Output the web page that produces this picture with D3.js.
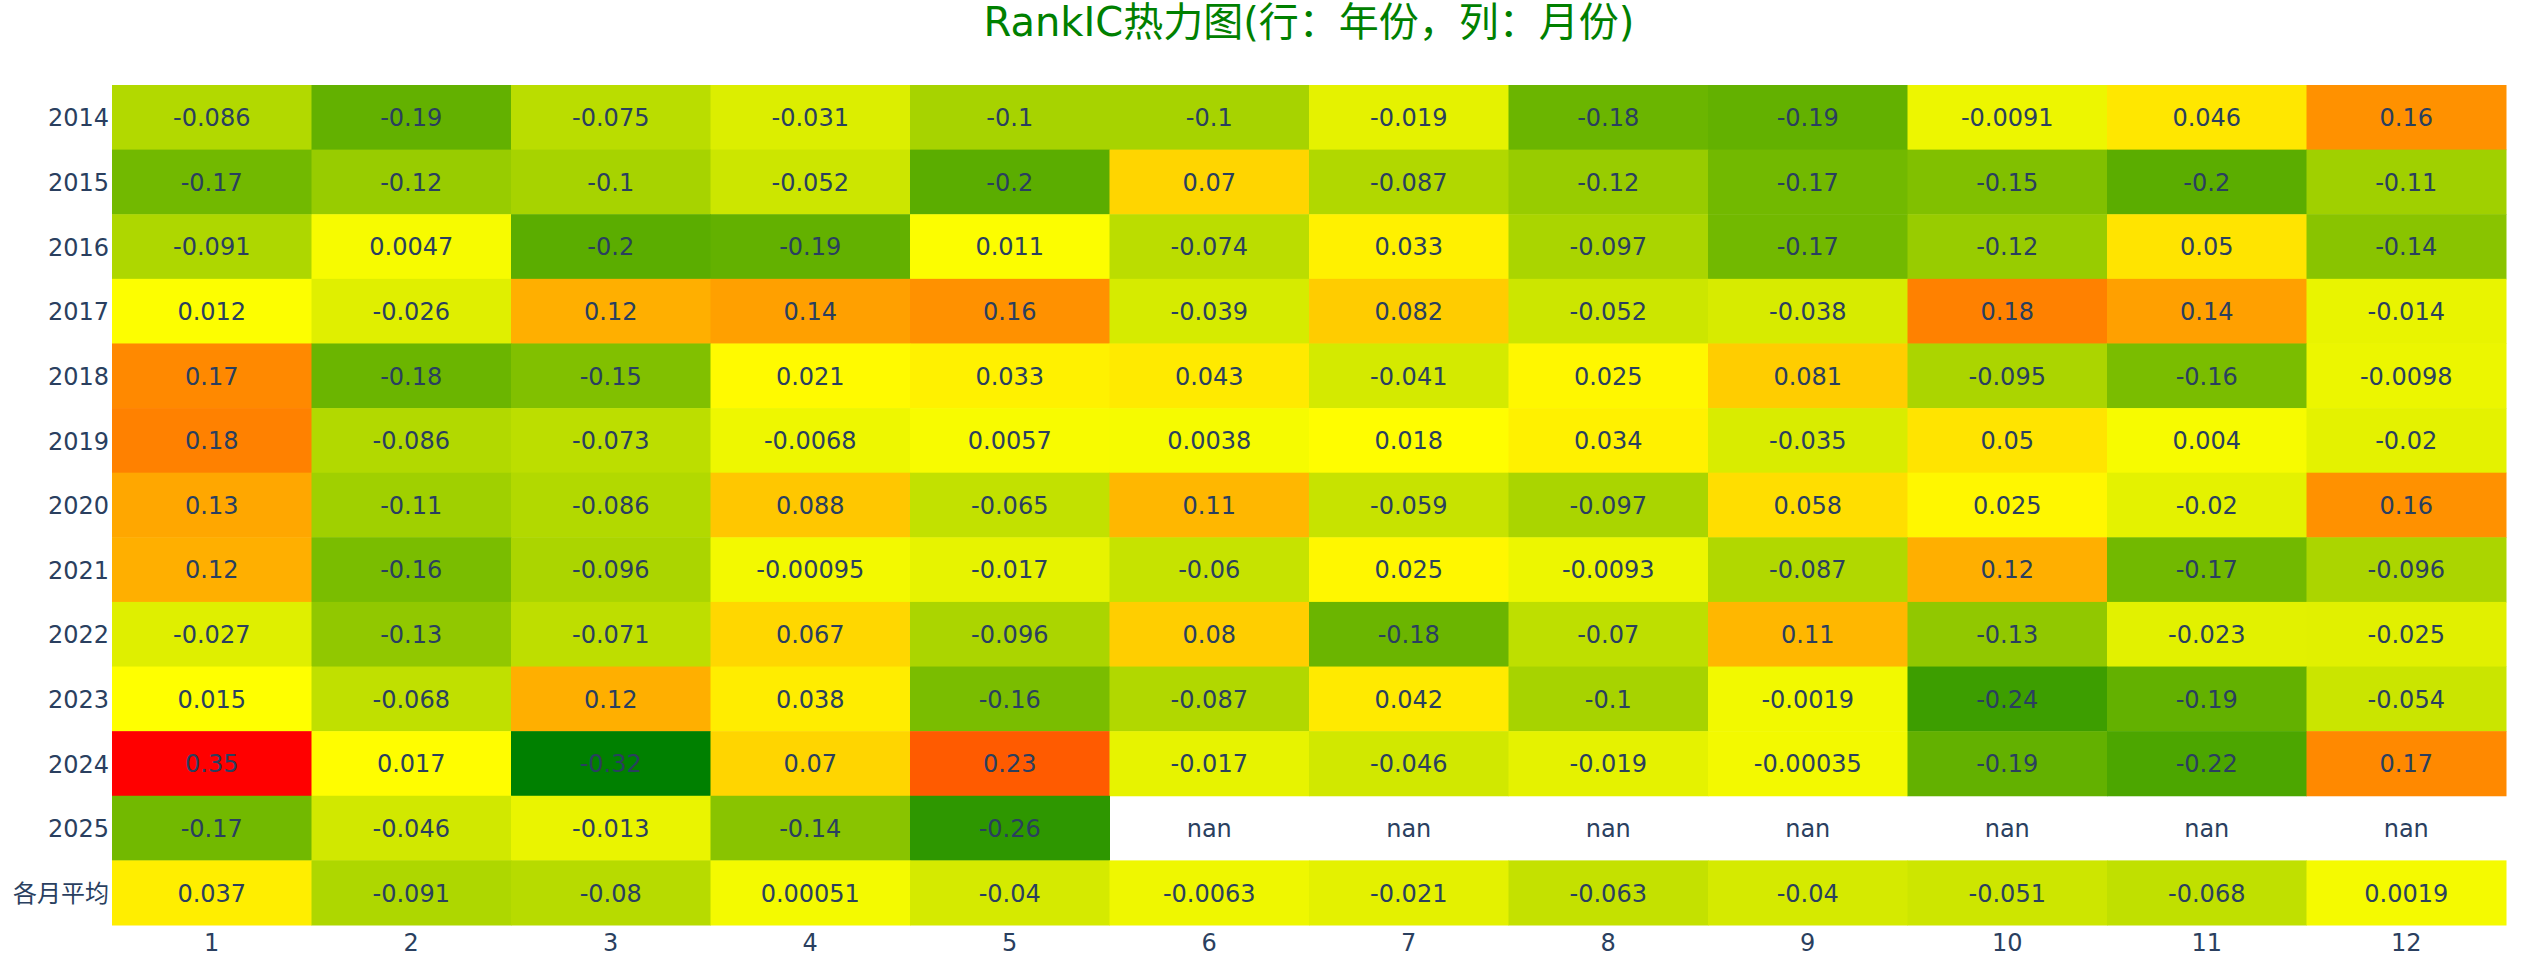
<!DOCTYPE html>
<html>
<head>
<meta charset="utf-8">
<script src="https://cdn.jsdelivr.net/npm/d3@7"></script>
<style>
  html, body { margin: 0; padding: 0; background: #ffffff; }
  svg { display: block; }
  text { font-family: "DejaVu Sans", "Noto Sans CJK SC", sans-serif; }
</style>
</head>
<body>
<svg id="chart" width="2538" height="962"></svg>
<script>
// ---- Data ----
const titleText = "RankIC热力图(行：年份，列：月份)";
const months = ["1","2","3","4","5","6","7","8","9","10","11","12"];
const rowLabels = ["2014","2015","2016","2017","2018","2019","2020","2021","2022","2023","2024","2025","各月平均"];

const v2014 = [-0.086, -0.19, -0.075, -0.031, -0.1, -0.1, -0.019, -0.18, -0.19, -0.0091, 0.046, 0.16];
const v2015 = [-0.17, -0.12, -0.1, -0.052, -0.2, 0.07, -0.087, -0.12, -0.17, -0.15, -0.2, -0.11];
const v2016 = [-0.091, 0.0047, -0.2, -0.19, 0.011, -0.074, 0.033, -0.097, -0.17, -0.12, 0.05, -0.14];
const v2017 = [0.012, -0.026, 0.12, 0.14, 0.16, -0.039, 0.082, -0.052, -0.038, 0.18, 0.14, -0.014];
const v2018 = [0.17, -0.18, -0.15, 0.021, 0.033, 0.043, -0.041, 0.025, 0.081, -0.095, -0.16, -0.0098];
const v2019 = [0.18, -0.086, -0.073, -0.0068, 0.0057, 0.0038, 0.018, 0.034, -0.035, 0.05, 0.004, -0.02];
const v2020 = [0.13, -0.11, -0.086, 0.088, -0.065, 0.11, -0.059, -0.097, 0.058, 0.025, -0.02, 0.16];
const v2021 = [0.12, -0.16, -0.096, -0.00095, -0.017, -0.06, 0.025, -0.0093, -0.087, 0.12, -0.17, -0.096];
const v2022 = [-0.027, -0.13, -0.071, 0.067, -0.096, 0.08, -0.18, -0.07, 0.11, -0.13, -0.023, -0.025];
const v2023 = [0.015, -0.068, 0.12, 0.038, -0.16, -0.087, 0.042, -0.1, -0.0019, -0.24, -0.19, -0.054];
const v2024 = [0.35, 0.017, -0.32, 0.07, 0.23, -0.017, -0.046, -0.019, -0.00035, -0.19, -0.22, 0.17];
const v2025 = [-0.17, -0.046, -0.013, -0.14, -0.26, null, null, null, null, null, null, null];
const vAvg  = [0.037, -0.091, -0.08, 0.00051, -0.04, -0.0063, -0.021, -0.063, -0.04, -0.051, -0.068, 0.0019];

const rowValues = [v2014, v2015, v2016, v2017, v2018, v2019, v2020, v2021, v2022, v2023, v2024, v2025, vAvg];

// ---- Layout ----
const margin = { left: 112, right: 2538 - 2506, top: 85, bottom: 962 - 925 };
const W = 2538, H = 962;
const svg = d3.select("#chart");
const plotW = W - margin.left - margin.right;
const plotH = H - margin.top - margin.bottom;

const cells = [];
rowValues.forEach((vals, ri) => {
  vals.forEach((v, ci) => cells.push({ row: rowLabels[ri], col: months[ci], value: v }));
});

const x = d3.scaleBand().domain(months).range([0, plotW]).padding(0);
const y = d3.scaleBand().domain(rowLabels).range([0, plotH]).padding(0);

const valid = cells.filter(d => d.value !== null).map(d => d.value);
const [zmin, zmax] = d3.extent(valid);
const color = d3.scaleLinear()
  .domain([zmin, (zmin + zmax) / 2, zmax])
  .range(["#008000", "#ffff00", "#ff0000"])
  .interpolate(d3.interpolateRgb);

const g = svg.append("g").attr("transform", `translate(${margin.left},${margin.top})`);

g.selectAll("rect.cell")
  .data(cells.filter(d => d.value !== null))
  .join("rect")
  .attr("class", "cell")
  .attr("x", d => x(d.col))
  .attr("y", d => y(d.row))
  .attr("width", x.bandwidth() + 0.5)
  .attr("height", y.bandwidth() + 0.5)
  .attr("fill", d => color(d.value));

g.selectAll("text.lbl")
  .data(cells)
  .join("text")
  .attr("class", "lbl")
  .attr("x", d => x(d.col) + x.bandwidth() / 2)
  .attr("y", d => y(d.row) + y.bandwidth() / 2)
  .attr("dy", "0.37em")
  .attr("text-anchor", "middle")
  .attr("font-size", 24)
  .attr("fill", "#2a3f5f")
  .text(d => d.value === null ? "nan" : String(d.value));

// Axes
const yAxis = g.append("g")
  .call(d3.axisLeft(y).tickSize(0).tickPadding(3));
yAxis.select(".domain").remove();
yAxis.selectAll("text")
  .attr("font-size", 24)
  .attr("fill", "#2a3f5f")
  .attr("dy", "0.38em")
  .style("font-family", '"DejaVu Sans", "Noto Sans CJK SC", sans-serif');

const xAxis = g.append("g")
  .attr("transform", `translate(0,${plotH})`)
  .call(d3.axisBottom(x).tickSize(0).tickPadding(9));
xAxis.select(".domain").remove();
xAxis.selectAll("text")
  .attr("font-size", 24)
  .attr("fill", "#2a3f5f")
  .style("font-family", '"DejaVu Sans", "Noto Sans CJK SC", sans-serif');

// Title
svg.append("text")
  .attr("x", margin.left + plotW / 2)
  .attr("y", 36)
  .attr("text-anchor", "middle")
  .attr("font-size", 40)
  .attr("fill", "#008000")
  .text(titleText);
</script>
</body>
</html>
